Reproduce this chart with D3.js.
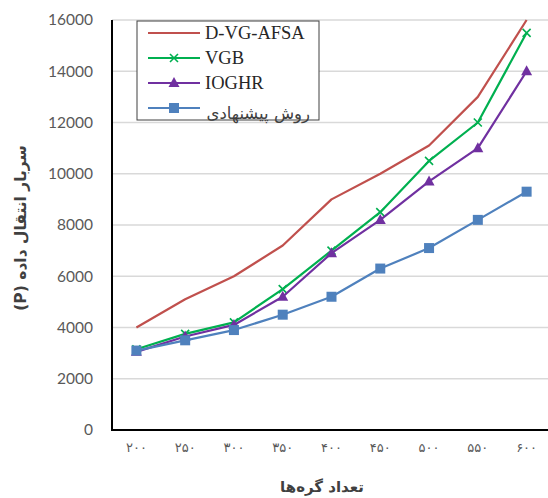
<!DOCTYPE html>
<html>
<head>
<meta charset="utf-8">
<script src="https://cdn.jsdelivr.net/npm/d3@7"></script>
<style>
  html, body { margin: 0; padding: 0; background: #fff; }
  svg { display: block; }
</style>
</head>
<body>
<svg id="chart" width="548" height="498"></svg>
<script>
const categories = ["۲۰۰", "۲۵۰", "۳۰۰", "۳۵۰", "۴۰۰", "۴۵۰", "۵۰۰", "۵۵۰", "۶۰۰"];
const dvgafsa = [4000, 5100, 6000, 7200, 9000, 10000, 11100, 13000, 16000];
const vgb     = [3150, 3750, 4200, 5500, 7000, 8500, 10500, 12000, 15500];
const ioghr   = [3050, 3650, 4100, 5200, 6900, 8200, 9700, 11000, 14000];
const proposed = [3100, 3500, 3900, 4500, 5200, 6300, 7100, 8200, 9300];
const yTicks = [0, 2000, 4000, 6000, 8000, 10000, 12000, 14000, 16000];
const seriesNames = ["D-VG-AFSA", "VGB", "IOGHR", "روش پیشنهادی"];
const xTitle = "تعداد گره‌ها";
const yTitle = "سربار انتقال داده (P)";

const series = [
  { name: seriesNames[0], values: dvgafsa, color: "#c0504d", marker: "none" },
  { name: seriesNames[1], values: vgb, color: "#00b050", marker: "x" },
  { name: seriesNames[2], values: ioghr, color: "#7030a0", marker: "tri" },
  { name: seriesNames[3], values: proposed, color: "#4f81bd", marker: "sq" }
];

const svg = d3.select("#chart");
const L = 112, R = 551, T = 20, B = 430;

const x = d3.scaleBand().domain(categories).range([L, R]);
const y = d3.scaleLinear().domain([0, 16000]).range([B, T]);

// gridlines
svg.append("g").selectAll("line").data(yTicks.filter(d => d > 0)).enter()
  .append("line")
  .attr("x1", L).attr("x2", R)
  .attr("y1", d => y(d)).attr("y2", d => y(d))
  .attr("stroke", "#d9d9d9").attr("stroke-width", 1.5);

// y axis labels
const yAxis = d3.axisLeft(y).tickValues(yTicks).tickSize(0).tickPadding(19).tickFormat(d3.format("d"));
const gy = svg.append("g").attr("transform", `translate(${L},0)`).call(yAxis);
gy.select(".domain").remove();
gy.selectAll("text").attr("font-family", "Lato, 'Open Sans', sans-serif").attr("font-size", 15.5).attr("fill", "#595959");

// x axis labels
const xAxis = d3.axisBottom(x).tickSize(0).tickPadding(13);
const gx = svg.append("g").attr("transform", `translate(0,${B})`).call(xAxis);
gx.select(".domain").remove();
gx.selectAll("text").attr("font-family", "'DejaVu Sans', sans-serif").attr("font-size", 13).attr("fill", "#595959")
  .attr("letter-spacing", "4.5px");

// axis lines
svg.append("line").attr("x1", L).attr("x2", L).attr("y1", T).attr("y2", B + 1)
  .attr("stroke", "#000").attr("stroke-width", 2);
svg.append("line").attr("x1", L - 1).attr("x2", R).attr("y1", B).attr("y2", B)
  .attr("stroke", "#000").attr("stroke-width", 2);

const cx = (d, i) => x(categories[i]) + x.bandwidth() / 2;

function drawMarker(g, type, color, px, py) {
  if (type === "x") {
    const s = 4;
    g.append("path").attr("d", `M${px - s},${py - s}L${px + s},${py + s}M${px - s},${py + s}L${px + s},${py - s}`)
      .attr("stroke", color).attr("stroke-width", 1.6).attr("fill", "none");
  } else if (type === "tri") {
    g.append("path").attr("d", `M${px},${py - 6}L${px + 5.5},${py + 4}L${px - 5.5},${py + 4}Z`).attr("fill", color);
  } else if (type === "sq") {
    g.append("rect").attr("x", px - 5).attr("y", py - 5).attr("width", 10).attr("height", 10).attr("fill", color);
  }
}

const line = d3.line().x(cx).y(d => y(d));
series.forEach(s => {
  const g = svg.append("g");
  g.append("path").attr("d", line(s.values)).attr("fill", "none")
    .attr("stroke", s.color).attr("stroke-width", 2.2).attr("stroke-linejoin", "round");
  s.values.forEach((v, i) => drawMarker(g, s.marker, s.color, cx(v, i), y(v)));
});

// legend
const lg = svg.append("g");
lg.append("rect").attr("x", 137).attr("y", 21).attr("width", 182).attr("height", 99)
  .attr("fill", "#fff").attr("stroke", "#404040").attr("stroke-width", 1);
series.forEach((s, i) => {
  const ly = 33 + i * 25;
  lg.append("line").attr("x1", 148).attr("x2", 200).attr("y1", ly).attr("y2", ly)
    .attr("stroke", s.color).attr("stroke-width", 2.2);
  drawMarker(lg, s.marker, s.color, 174, ly);
  const t = lg.append("text").attr("fill", "#262626");
  if (i < 3) {
    t.attr("x", 205).attr("y", ly + 6).attr("font-family", "'Liberation Serif', serif").attr("font-size", 18.5).text(s.name);
  } else {
    t.attr("x", 310).attr("y", ly + 11).attr("font-family", "'DejaVu Sans', sans-serif").attr("font-size", 16.5)
      .attr("fill", "#404040").attr("direction", "rtl").attr("text-anchor", "start").text(s.name);
  }
});

// axis titles
svg.append("text").attr("x", 322).attr("y", 492).attr("text-anchor", "middle")
  .attr("font-family", "'DejaVu Sans', sans-serif").attr("font-weight", "bold").attr("font-size", 15)
  .attr("fill", "#404040").attr("direction", "rtl").text(xTitle);

svg.append("text").attr("transform", "translate(26,228) rotate(-90)").attr("text-anchor", "middle")
  .attr("font-family", "'DejaVu Sans', sans-serif").attr("font-weight", "bold").attr("font-size", 15.5)
  .attr("fill", "#404040").attr("direction", "rtl").text(yTitle);
</script>
</body>
</html>
